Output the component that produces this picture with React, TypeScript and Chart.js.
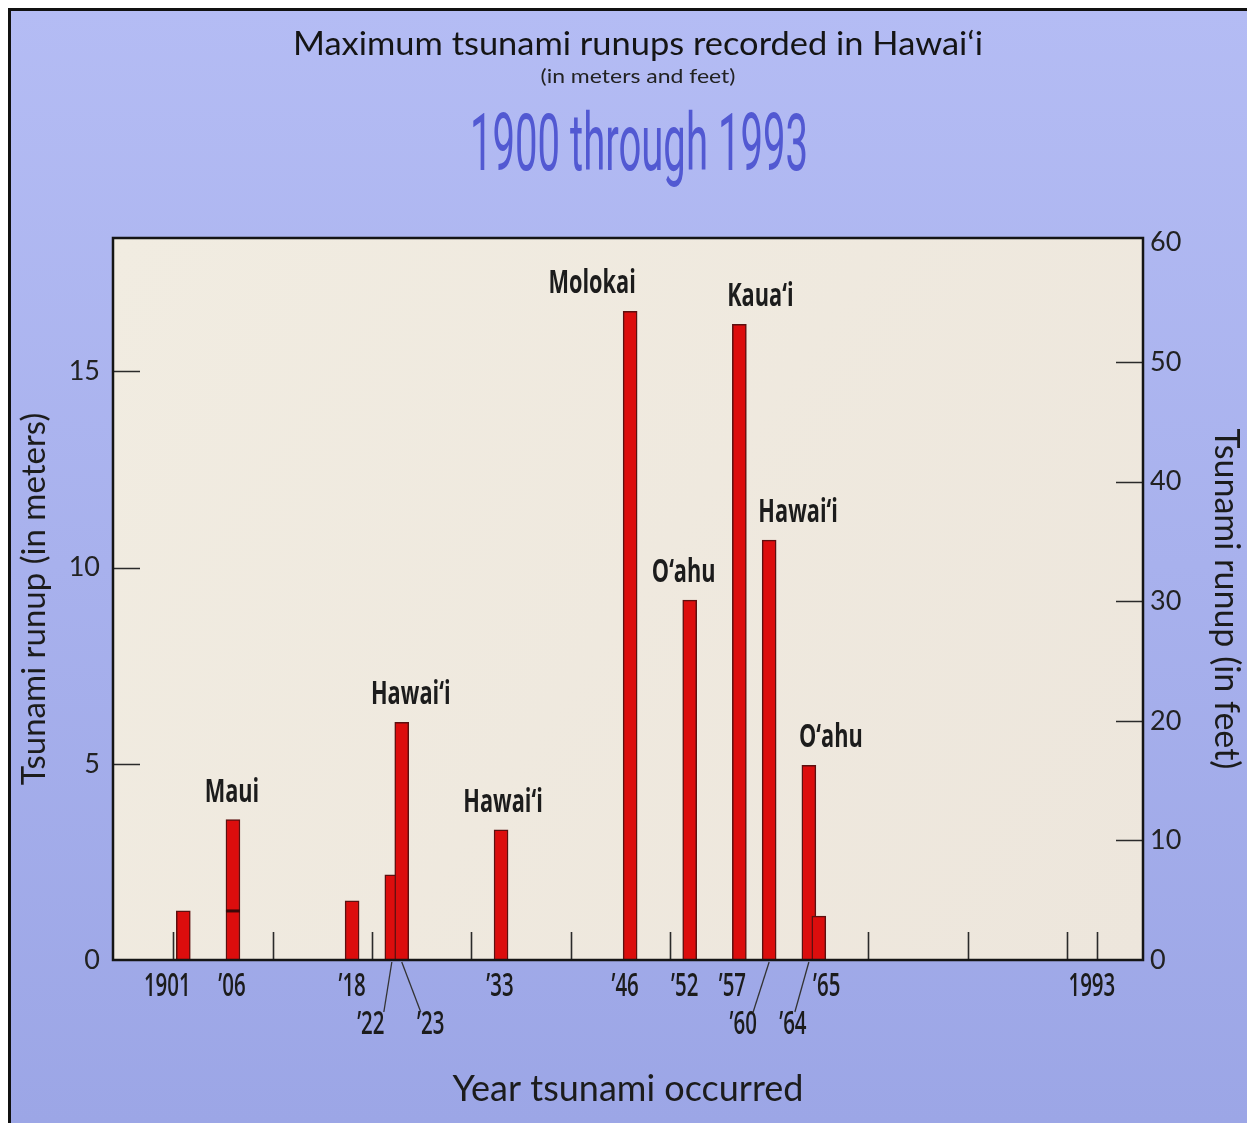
import { useEffect, useRef } from "react";
import { Chart, registerables } from "chart.js";
Chart.register(...registerables);

// ---------- data ----------
const years = [1901, 1906, 1918, 1922, 1923, 1933, 1946, 1952, 1957, 1960, 1964, 1965];
const runupMeters = [1.25, 3.58, 1.51, 2.17, 6.06, 3.32, 16.53, 9.17, 16.2, 10.7, 4.96, 1.12];
const yearLabels = ["1901", "’06", "’18", "’22", "’23", "’33", "’46", "’52", "’57", "’60", "’64", "’65"];

const secondaryYears = [1906];
const secondaryRunups = [1.25];

const islandYears = [1906, 1923, 1933, 1946, 1952, 1957, 1960, 1964];
const islandNames = ["Maui", "Hawai‘i", "Hawai‘i", "Molokai", "O‘ahu", "Kaua‘i", "Hawai‘i", "O‘ahu"];

const endYear = 1993;
const endYearLabel = "1993";

const meterTicks = [0, 5, 10, 15];
const feetTicks = [0, 10, 20, 30, 40, 50, 60];
const yearTicks = [1900, 1910, 1920, 1930, 1940, 1950, 1960, 1970, 1980, 1990, 1993];

const METERS_PER_FOOT = 0.3048;
const yMaxMeters = 18.4;
const xMin = 1893.92;
const xMax = 1997.65;

// ---------- annotation layout (pixel nudges, kept apart from data) ----------
const islandDx = [-1, 9, 2, -38, -6, 21, 29, 22];
const yearDx = [-16, -1, 0, -21, 29, -1, -5, -5, -7, -26, -16, 8];
const yearLower = [false, false, false, true, true, false, false, false, false, true, true, false];
const leaderDx = [13, -10, 10, 2];
const endYearDx = -5;

const INK = "#1c1c1c";

function condensed(ctx: CanvasRenderingContext2D, text: string, x: number, y: number, font: string, sx: number, color = INK, baseline: CanvasTextBaseline = "middle") {
  ctx.save();
  ctx.font = font;
  ctx.fillStyle = color;
  ctx.textAlign = "center";
  ctx.textBaseline = baseline;
  ctx.translate(x, y);
  ctx.scale(sx, 1);
  ctx.fillText(text, 0, 0);
  ctx.restore();
}

function fitted(ctx: CanvasRenderingContext2D, text: string, x: number, y: number, font: string, targetW: number, color: string) {
  ctx.save();
  ctx.font = font;
  const w = ctx.measureText(text).width;
  const sx = targetW / w;
  ctx.fillStyle = color;
  ctx.textAlign = "center";
  ctx.textBaseline = "alphabetic";
  ctx.translate(x, y);
  ctx.scale(sx, 1);
  ctx.fillText(text, 0, 0);
  ctx.restore();
}

const decor = {
  id: "decor",
  beforeDraw(chart: any) {
    const { ctx, width, height, chartArea: a } = chart;
    ctx.save();
    const g = ctx.createLinearGradient(0, 0, 0, height);
    g.addColorStop(0, "#b4bcf4");
    g.addColorStop(1, "#9ca6e6");
    ctx.fillStyle = g;
    ctx.fillRect(0, 0, width, height);
    ctx.fillStyle = "#111";
    ctx.fillRect(0, 0, width, 3);
    ctx.fillRect(0, 0, 3, height);
    const pg = ctx.createLinearGradient(a.left, a.top, a.right, a.bottom);
    pg.addColorStop(0, "#f1ece1");
    pg.addColorStop(1, "#ede6dc");
    ctx.fillStyle = pg;
    ctx.fillRect(a.left, a.top, a.right - a.left, a.bottom - a.top);
    ctx.restore();

    const cx = 630;
    fitted(ctx, "Maximum tsunami runups recorded in Hawai‘i", cx, 47, "400 32px Lato", 690, "#151515");
    fitted(ctx, "(in meters and feet)", cx, 75, "400 20px Lato", 195, "#222");
    fitted(ctx, "1900 through 1993", cx + 1, 162, "400 80px Roboto", 338, "#5259d2");
  },
  beforeDatasetsDraw(chart: any) {
    const { ctx, chartArea: a, scales } = chart;
    const x = scales.x, y = scales.y, y2 = scales.y2;
    ctx.save();
    ctx.strokeStyle = "#2a2a2a";
    ctx.lineWidth = 1.6;
    ctx.beginPath();
    for (const v of meterTicks) {
      if (v === 0) continue;
      const py = Math.round(y.getPixelForValue(v)) + 0.5;
      ctx.moveTo(a.left, py);
      ctx.lineTo(a.left + 27, py);
    }
    for (const v of feetTicks) {
      if (v === 0 || v === 60) continue;
      const py = Math.round(y2.getPixelForValue(v)) + 0.5;
      ctx.moveTo(a.right - 27, py);
      ctx.lineTo(a.right, py);
    }
    for (const v of yearTicks) {
      const px = Math.round(x.getPixelForValue(v)) + 0.5;
      ctx.moveTo(px, a.bottom);
      ctx.lineTo(px, a.bottom - 28);
    }
    ctx.stroke();
    ctx.restore();
  },
  afterDatasetsDraw(chart: any) {
    const { ctx, chartArea: a, scales } = chart;
    const x = scales.x, y = scales.y;
    ctx.save();
    ctx.strokeStyle = "#151515";
    ctx.lineWidth = 2.5;
    ctx.strokeRect(a.left, a.top, a.right - a.left, a.bottom - a.top);
    ctx.restore();

    // island labels above bars
    islandYears.forEach((yr, i) => {
      const v = runupMeters[years.indexOf(yr)];
      const px = x.getPixelForValue(yr) + islandDx[i];
      const py = y.getPixelForValue(v) - 27;
      condensed(ctx, islandNames[i], px, py, "700 32px 'Open Sans'", 0.68);
    });

    // year labels below axis
    let li = 0;
    ctx.save();
    ctx.strokeStyle = "#333";
    ctx.lineWidth = 1.3;
    years.forEach((yr, i) => {
      const bx = x.getPixelForValue(yr);
      const lx = bx + yearDx[i];
      const ly = a.bottom + (yearLower[i] ? 65 : 27);
      condensed(ctx, yearLabels[i], lx, ly, "600 33px 'Open Sans'", 0.62);
      if (yearLower[i]) {
        ctx.beginPath();
        ctx.moveTo(bx, a.bottom + 2);
        ctx.lineTo(lx + leaderDx[li], a.bottom + 52);
        ctx.stroke();
        li++;
      }
    });
    ctx.restore();
    condensed(ctx, endYearLabel, x.getPixelForValue(endYear) + endYearDx, a.bottom + 27, "600 33px 'Open Sans'", 0.62);
  },
};

export default function App() {
  const ref = useRef<HTMLCanvasElement | null>(null);
  useEffect(() => {
    document.documentElement.style.overflow = "hidden";
    const canvas = ref.current;
    if (!canvas) return;
    const chart = new Chart(canvas, {
      type: "bar",
      data: {
        datasets: [
          {
            type: "line" as any,
            data: secondaryYears.map((yr, i) => ({ x: yr, y: secondaryRunups[i] })),
            showLine: false,
            pointStyle: "line",
            pointRadius: 7,
            pointBorderWidth: 3,
            pointBorderColor: "#3a0808",
            pointBackgroundColor: "#3a0808",
            order: 0,
            yAxisID: "y",
          } as any,
          {
            type: "bar",
            data: years.map((yr, i) => ({ x: yr, y: runupMeters[i] })),
            backgroundColor: "#dc0d0d",
            borderColor: "#5c1010",
            borderWidth: 1.5,
            barThickness: 14,
            order: 1,
            yAxisID: "y",
          } as any,
        ],
      },
      options: {
        responsive: false,
        animation: false,
        events: [],
        layout: { padding: { top: 230, left: 0, right: 0, bottom: 0 } },
        plugins: { legend: { display: false }, tooltip: { enabled: false }, title: { display: false } },
        scales: {
          x: {
            type: "linear",
            min: xMin,
            max: xMax,
            offset: false,
            grid: { display: false, drawTicks: false },
            border: { display: false },
            ticks: { display: false },
            afterFit: (s: any) => { s.height = 163; },
            title: {
              display: true,
              text: "Year tsunami occurred",
              color: "#1c1c1c",
              font: { family: "Lato", size: 36 },
              padding: { top: 0, bottom: 12 },
            },
          },
          y: {
            type: "linear",
            position: "left",
            min: 0,
            max: yMaxMeters,
            grid: { display: false, drawTicks: false },
            border: { display: false },
            afterBuildTicks: (s: any) => { s.ticks = meterTicks.map((v) => ({ value: v })); },
            afterFit: (s: any) => { s.width = 105; },
            ticks: { color: "#222", font: { family: "Lato", size: 27 }, padding: 13 },
            title: {
              display: true,
              text: "Tsunami runup (in meters)",
              color: "#1c1c1c",
              font: { family: "Lato", size: 33 },
              padding: { top: 7, bottom: 0 },
            },
          },
          y2: {
            type: "linear",
            position: "right",
            min: 0,
            max: yMaxMeters / METERS_PER_FOOT,
            grid: { display: false, drawTicks: false },
            border: { display: false },
            afterBuildTicks: (s: any) => { s.ticks = feetTicks.map((v) => ({ value: v })); },
            afterFit: (s: any) => { s.width = 104; },
            ticks: { color: "#222", font: { family: "Lato", size: 27 }, padding: 7 },
            title: {
              display: true,
              text: "Tsunami runup (in feet)",
              color: "#1c1c1c",
              font: { family: "Lato", size: 34 },
              padding: { top: 1, bottom: 0 },
            },
          },
        },
      },
      plugins: [decor],
    } as any);
    return () => chart.destroy();
  }, []);
  return (
    <div style={{ position: "absolute", left: 8, top: 8, width: 1239, height: 1115 }}>
      <canvas ref={ref} width={1239} height={1115} style={{ width: 1239, height: 1115, display: "block" }} />
    </div>
  );
}
